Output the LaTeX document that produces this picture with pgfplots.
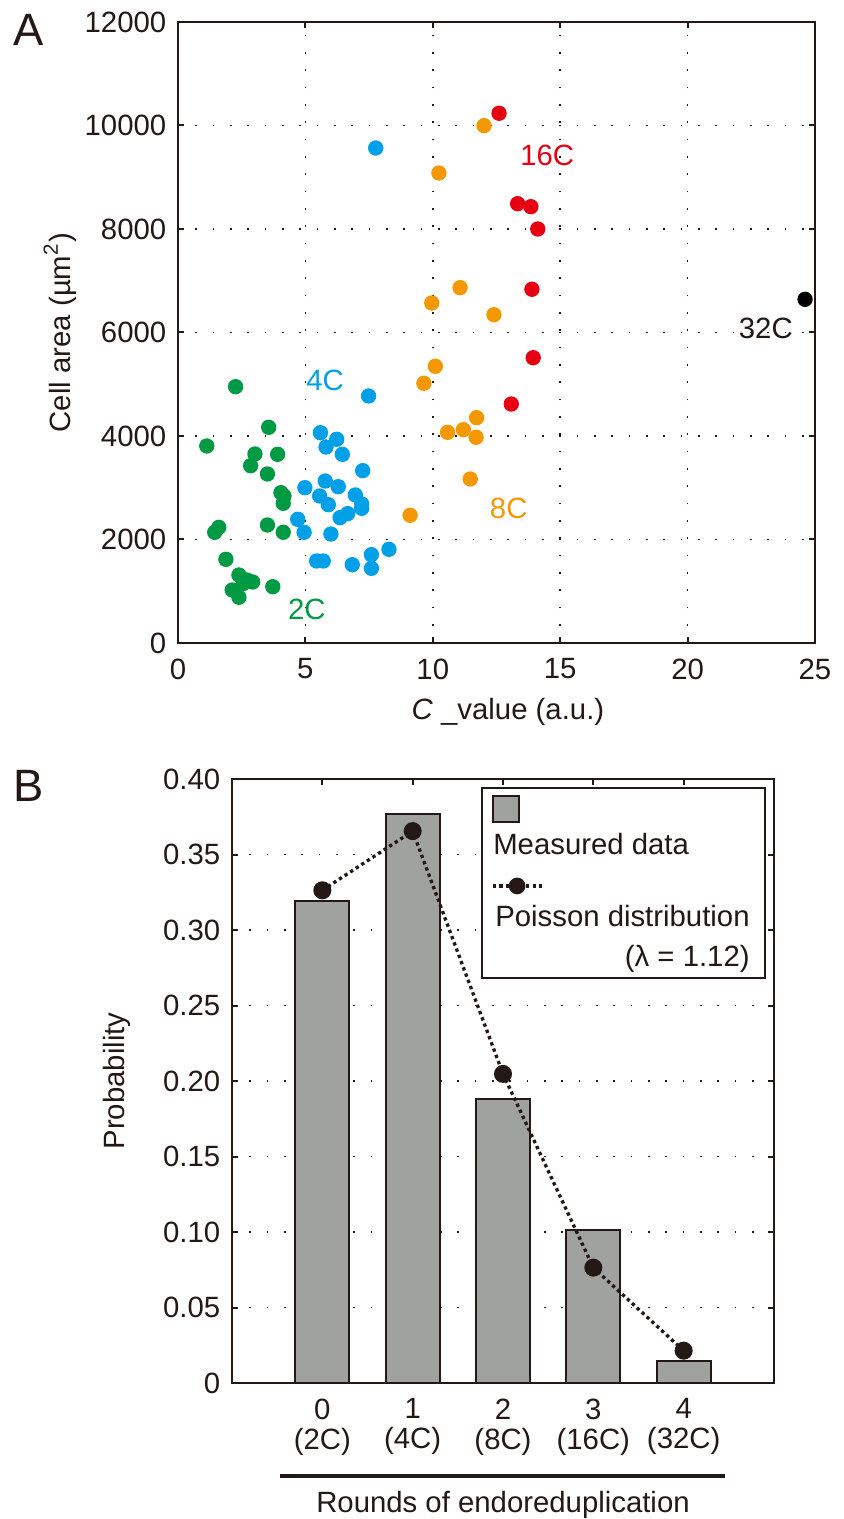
\documentclass[border=0pt]{standalone}
\usepackage{pgfplots}
\usepackage{pgfplotstable}
\pgfplotsset{compat=1.18}
\usepackage{fontspec}
\setmainfont{Liberation Sans}
\definecolor{ink}{HTML}{231815}
\definecolor{cgreen}{HTML}{009944}
\definecolor{cblue}{HTML}{00A0E9}
\definecolor{corange}{HTML}{F39800}
\definecolor{cred}{HTML}{E60012}
\definecolor{barfill}{HTML}{A0A2A0}

\pgfplotstableread{
x y
2.26 4953
3.56 4168
1.13 3807
3.02 3652
3.91 3646
2.85 3426
3.51 3266
4.04 2905
4.16 2841
4.13 2699
1.60 2235
1.44 2139
3.51 2280
4.13 2139
1.88 1617
2.39 1314
2.70 1217
2.93 1179
2.56 1150
2.13 1024
2.39 883
3.72 1088
}\greendata

\pgfplotstableread{
x y
7.48 4773
5.59 4064
6.23 3936
5.81 3787
6.45 3646
7.25 3330
5.78 3130
6.29 3020
4.98 3001
5.56 2841
6.96 2860
5.90 2673
7.21 2686
7.21 2603
6.66 2500
6.36 2422
4.70 2390
4.95 2139
6.00 2106
8.28 1810
7.59 1707
5.44 1585
5.70 1585
6.84 1513
7.59 1443
7.76 9565
}\bluedata

\pgfplotstableread{
x y
12.01 9997
10.24 9082
11.07 6866
9.96 6570
12.40 6344
10.10 5347
9.65 5018
11.72 4354
11.20 4122
10.58 4071
11.70 3975
11.47 3169
9.11 2468
}\orangedata

\pgfplotstableread{
x y
12.60 10236
13.33 8489
13.85 8431
14.12 8000
13.89 6835
13.94 5513
13.08 4618
}\reddata

\pgfplotstableread{
x y
24.61 6641
}\blackdata

\pgfplotstableread{
x y
0 0.319
1 0.377
2 0.188
3 0.101
4 0.0145
}\measured

\pgfplotstableread{
x y
0 0.3263
1 0.3655
2 0.2047
3 0.0764
4 0.0214
}\poisson

\begin{document}
\begin{tikzpicture}
\useasboundingbox (0,0) rectangle (252.9pt,455.7pt);
\pgfplotsset{
  mystyle/.style={
    scale only axis,
    axis line style={ink, line width=0.6pt},
    tick style={ink, line width=0.6pt},
    major tick length=1.7pt,
    tick align=inside,
    tick label style={font=\fontsize{8.8}{10.5}\selectfont, text=ink},
    label style={font=\fontsize{8.8}{10.5}\selectfont, text=ink},
    grid style={ink, line width=0.5pt, dash pattern=on 0.5pt off 4.7pt},
    /pgf/number format/assume math mode=true,
    /pgf/number format/1000 sep={},
    scaled ticks=false,
    clip=false,
  },
  dot/.style={only marks, mark=*, mark size=2.1pt, mark options={solid, draw=none, fill=#1}, color=#1},
}
\node[font=\fontsize{13.6}{15}\selectfont, text=ink] at (8.6pt,446.85pt) {A};
\node[font=\fontsize{13.6}{15}\selectfont, text=ink] at (8.7pt,219.9pt) {B};

\begin{axis}[mystyle,
  at={(53.4pt,262.8pt)}, anchor=south west,
  width=191.1pt, height=186.3pt,
  xmin=0, xmax=25, ymin=0, ymax=12000,
  xtick={0,5,10,15,20,25}, ytick={0,2000,4000,6000,8000,10000,12000},
  xticklabel style={yshift=-1.2pt},
  xmajorgrids, ymajorgrids,
  xlabel={\textit{C} \_value (a.u.)},
  xlabel style={at={(rel axis cs:0.518,0)}, anchor=base, yshift=-23.1pt},
  ylabel={Cell area (µm\textsuperscript{2})},
  ylabel style={at={(rel axis cs:0,0.5)}, anchor=center, yshift=35.4pt},
]
\addplot[dot=cgreen] table {\greendata};
\addplot[dot=cblue] table {\bluedata};
\addplot[dot=corange] table {\orangedata};
\addplot[dot=cred] table {\reddata};
\addplot[dot=black] table {\blackdata};
\node[text=cblue, font=\fontsize{8.8}{10}\selectfont] at (axis cs:5.77,5082) {4C};
\node[text=cgreen, font=\fontsize{8.8}{10}\selectfont] at (axis cs:5.06,657) {2C};
\node[text=corange, font=\fontsize{8.8}{10}\selectfont] at (axis cs:12.98,2603) {8C};
\node[text=cred, font=\fontsize{8.8}{10}\selectfont] at (axis cs:14.49,9424) {16C};
\node[text=ink, font=\fontsize{8.8}{10}\selectfont] at (axis cs:23.07,6081) {32C};
\end{axis}

\begin{axis}[mystyle,
  at={(69.6pt,40.8pt)}, anchor=south west,
  width=162.6pt, height=181.2pt,
  xmin=-1, xmax=5, ymin=0, ymax=0.4,
  xtick={0,1,2,3,4},
  xticklabels={{0\\(2C)},{1\\(4C)},{2\\(8C)},{3\\(16C)},{4\\(32C)}},
  xticklabel style={align=center, font=\fontsize{8.8}{9}\selectfont, yshift=-1.2pt},
  ytick={0,0.05,0.1,0.15,0.2,0.25,0.3,0.35,0.4},
  yticklabels={0,0.05,0.10,0.15,0.20,0.25,0.30,0.35,0.40},
  ymajorgrids,
  xlabel={Rounds of endoreduplication},
  xlabel style={at={(rel axis cs:0.5,0)}, anchor=base, yshift=-38.7pt},
  ylabel={Probability},
  ylabel style={at={(rel axis cs:0,0.5)}, anchor=center, yshift=34.5pt},
  legend style={at={(rel axis cs:1,1)}, xshift=-2.4pt, yshift=-2.4pt, anchor=north east,
    draw=ink, line width=0.6pt, text=ink, font=\fontsize{8.8}{10}\selectfont,
    cells={anchor=west}, inner xsep=2.6pt, inner ysep=0pt},
]
\addplot[ybar, bar width=0.6, bar shift=0pt, fill=barfill, draw=ink, line width=0.6pt, forget plot] table {\measured};
\addplot[ink, line width=1pt, dash pattern=on 1pt off 1pt, mark=*, mark size=2.2pt, mark options={solid, fill=ink, draw=none}, forget plot] table {\poisson};
\draw[ink, line width=1.2pt] (axis cs:-0.47,-0.0618) -- (axis cs:4.46,-0.0618);
\addlegendimage{legend image code/.code={\draw[fill=barfill, draw=ink, line width=0.6pt] (0pt,-3.9pt) rectangle (7.8pt,3.9pt); \path (0pt,-5.2pt) (0pt,5.9pt);}}
\addlegendentry{}
\addlegendimage{empty legend}
\addlegendentry{\hspace*{-17pt}Measured data}
\addlegendimage{legend image code/.code={\path (0pt,5.5pt) (0pt,-3.6pt); \draw[ink, line width=1pt, dash pattern=on 1pt off 1pt] (0pt,0pt) -- (14.7pt,0pt); \fill[ink] (7.35pt,0pt) circle (2.2pt);}}
\addlegendentry{}
\addlegendimage{empty legend}
\addlegendentry{\hspace*{-16.4pt}Poisson distribution}
\addlegendimage{empty legend}
\addlegendentry{\hspace*{-16.4pt}\hphantom{Poisson distribution}\llap{(λ = 1.12)}}
\end{axis}
\end{tikzpicture}
\end{document}
